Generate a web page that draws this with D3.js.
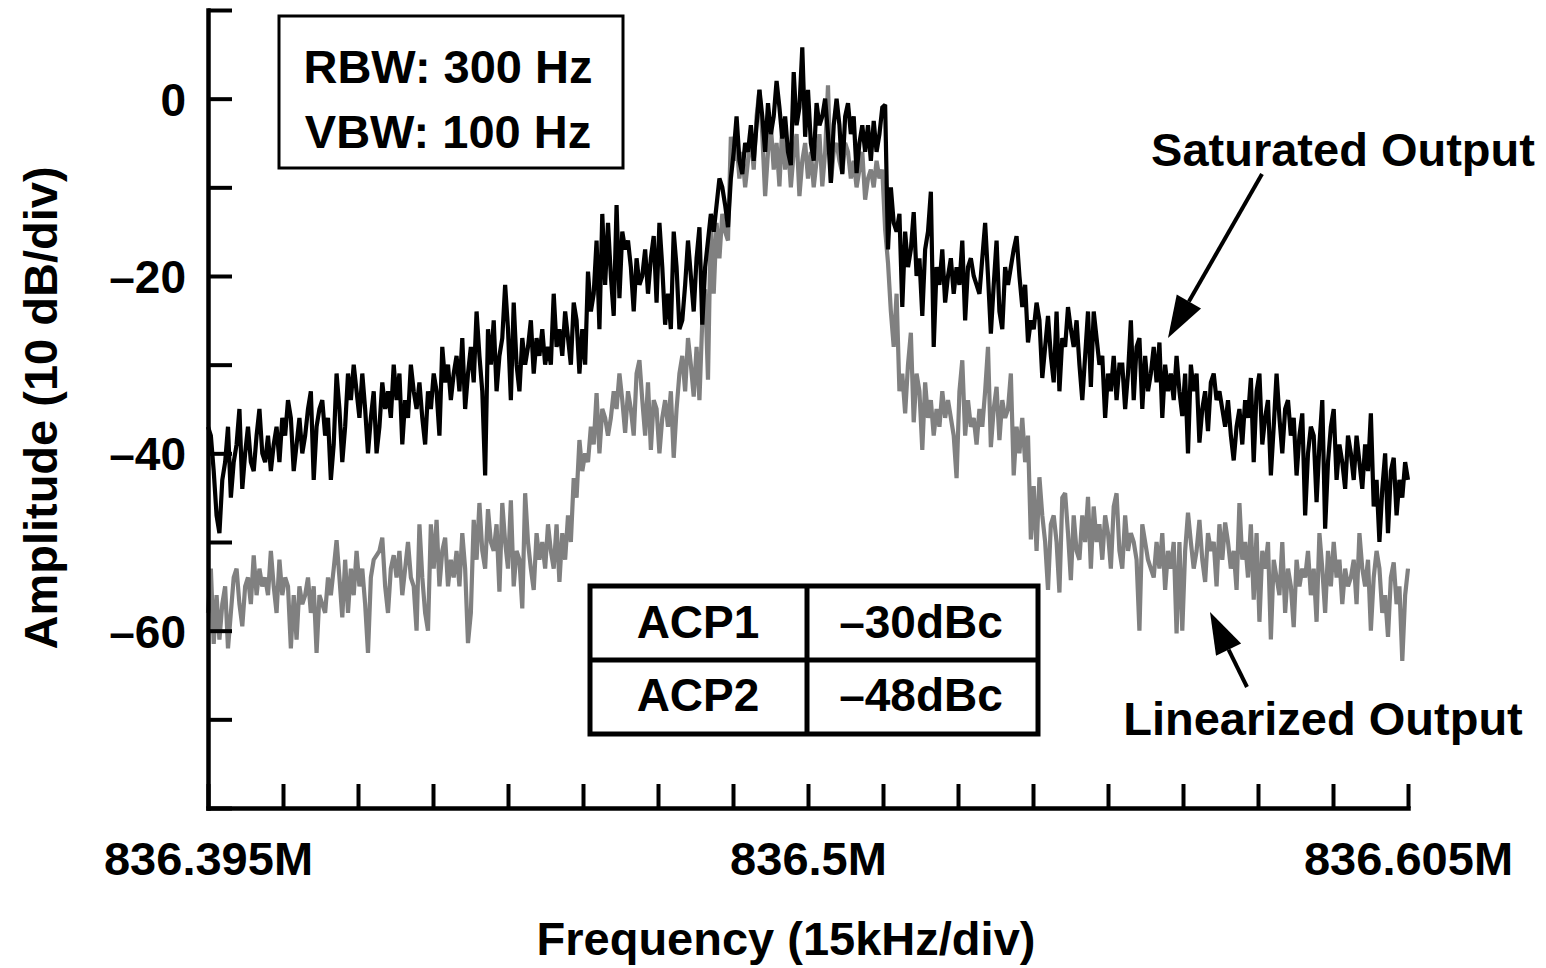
<!DOCTYPE html>
<html lang="en">
<head>
  <meta charset="UTF-8">
  <title>Saturated vs Linearized Output</title>
  <script src="https://d3js.org/d3.v7.min.js"></script>
  <style>
    body { margin: 0; background: #fff; }
    text { font-family: "Liberation Sans", Arial, Helvetica, sans-serif; font-weight: bold; fill: #000; }
  </style>
</head>
<body>
<svg id="chart"></svg>
<script>
  const width = 1546, height = 968;

  // sweep: 836.395 MHz .. 836.605 MHz, one reading per 0.5 kHz
  const sweepStart = 836.395, sweepStop = 836.605;
  const xLabelFreqs = [836.395, 836.5, 836.605];
  const yTicks = [-80, -70, -60, -50, -40, -30, -20, -10, 0, 10];
  const yLabelled = [0, -20, -40, -60];

  // saturated output trace (dB)
  const saturated = [
    -37, -38, -42, -47, -49, -43, -41, -37, -45, -41, -39, -35, -44, -40, -37, -41, -42, -38, -35, -40,
    -41, -38, -42, -39, -37, -41, -36, -38, -34, -36, -42, -39, -36, -40, -38, -35, -33, -43, -37, -35,
    -34, -38, -36, -43, -39, -31, -35, -41, -37, -31, -34, -30, -33, -36, -31, -35, -40, -36, -33, -40,
    -37, -32, -35, -33, -36, -30, -34, -31, -39, -34, -36, -30, -33, -35, -32, -36, -39, -33, -35, -31,
    -33, -38, -28, -32, -30, -34, -31, -29, -33, -27, -35, -31, -28, -32, -24, -29, -33, -42.5, -26, -30,
    -25, -33, -29, -27, -21, -26, -34, -23, -30, -33, -27, -30, -28, -25, -31, -27, -29, -26, -30, -28,
    -30, -22, -28, -26, -29, -24, -27, -30, -23, -25, -31, -26, -30, -19.5, -24, -22, -16, -26, -13, -21,
    -14, -20, -24.5, -12, -22.5, -15, -17, -16, -19, -24, -18, -21, -20, -17, -22, -18, -15.5, -23, -14, -19,
    -25.5, -22, -26, -15, -19, -26, -25, -21, -16, -20, -24, -18, -14.5, -25.5, -19, -16, -13, -15, -12, -9,
    -10, -12, -14.5, -9, -6, -2, -7, -8.5, -5, -6, -3, -7, -3, 1, -2, -6, -0.5, -4, -2, 2,
    -1, -4.5, -2, -6, -7.5, 3, -3, -1, 5.8, -4.3, 1, -5, -7, -0.5, -3, -2, 0, -4, -9.5, -3,
    0, -3, -8.5, -2, -0.5, -4, -2, -8.4, -5, -3, -6, -3, -7, -2.5, -6, -4, -1, -0.7, -17, -10,
    -14, -15, -13, -23.5, -15, -19, -17, -12.8, -20, -18, -24.5, -17, -15, -10.5, -28, -19, -21, -17, -23, -20,
    -18, -22, -19, -21, -16, -25, -19, -18, -20, -21, -22, -18, -14, -20, -26.5, -21, -16, -24, -26, -19,
    -21, -19, -17, -15.5, -20, -23.5, -21, -27.5, -25, -26, -23, -25, -31.5, -28, -24.5, -29, -32, -24, -33, -27,
    -28, -23.5, -26, -28, -25, -30, -34, -29, -24, -32.5, -24, -27, -30, -29, -36, -31, -33, -29, -34, -30,
    -30, -35, -31, -25, -34, -28, -27, -35, -29, -33, -31, -28, -32, -27.5, -36, -30, -33, -31, -34, -29,
    -33, -35.8, -31, -40, -30, -33, -31, -38.8, -35, -33, -37.5, -32, -31, -34, -33, -35, -37, -34, -38, -40.8,
    -37, -35, -39, -34, -36, -31.5, -41, -33, -31, -39, -36, -34, -42.5, -37, -31, -36, -40, -35, -34, -38,
    -36, -42.5, -38, -35.5, -47, -40, -37, -38, -45.5, -39, -34, -48.5, -41, -37, -35, -43, -39, -41, -44, -38,
    -40, -43, -38, -41, -44, -39, -42, -35.5, -46, -43, -50, -44, -40, -49, -42, -40.5, -47, -43, -45, -41, -43
  ];

  // linearized output trace (dB)
  const linearized = [
    -58, -53, -61.5, -56, -61, -57, -55, -62, -58, -54, -53, -57, -59.5, -55, -54, -57, -51.5, -56, -53, -55,
    -54, -56, -51, -55, -58, -52, -56, -54, -55, -62, -56, -61, -55, -57, -56, -54, -58, -55, -62.5, -56,
    -57, -58, -54, -56, -53, -49.8, -54, -58.5, -52, -58, -53, -56, -51, -55, -53, -57, -62.5, -54, -52, -51.5,
    -51, -49.5, -55, -58, -53, -51.5, -54, -51, -56, -53, -50, -54, -55, -60, -48, -54, -58, -60, -48, -53,
    -47.5, -55, -51, -49.5, -55, -52, -54, -51, -55, -49, -53, -61.4, -58, -47.5, -52, -45.6, -51, -53, -46.3, -50,
    -51, -48, -55.6, -45.6, -50, -53, -45.3, -55, -51, -52, -57.5, -44.5, -50, -53, -55.4, -49, -52, -50, -53, -48,
    -51, -53, -48, -54.5, -49, -52, -47, -50, -42.8, -45, -38.5, -42, -40, -41, -37, -39, -33.2, -40, -35, -36,
    -38, -36, -33, -35, -31, -34, -37.7, -33, -35, -38, -31, -29.5, -34, -38, -32, -39.6, -34, -35, -40, -36,
    -34, -37, -33, -40.5, -35, -31, -29, -33, -27, -30, -33.6, -28, -34, -25, -21.5, -31.7, -13.4, -22, -14, -18,
    -13, -15, -16, -4.3, -7, -5, -9, -6, -10, -7, -4, -8, -2, 1, -4, -11, -6, -3, -8, -5,
    -9.9, -3, -8, -5, -10, -6, -4, -11, -7, -5, -9, -6, -10, -7, -4, -9.9, -6, 1.5, -9.5, -6,
    -5, -7, -8.4, -5, -6, -9, -7, -10, -8, -6, -11.4, -9, -8, -10, -7, -9, -8, -14.8, -18.5, -24,
    -28, -22, -33, -31, -35.5, -30, -26.4, -36.5, -31, -33, -39.6, -32, -36, -34, -38, -35, -37, -33, -36, -34,
    -36, -38, -42.8, -33, -29.5, -38, -34, -37, -36, -39, -35, -37, -33, -28, -39.3, -35, -32.5, -38.5, -34, -36,
    -35, -31, -42.5, -37, -40, -36, -41, -38, -49.7, -43.7, -51, -42.7, -47, -50, -55.4, -48, -47, -50, -55.7, -45,
    -44.5, -49, -54.3, -47, -51, -52, -47, -50, -44.9, -53, -46, -50, -48, -52, -47, -49, -53, -46, -44.5, -51,
    -53, -47, -51, -49, -50, -52, -60, -48, -50, -52, -53, -54, -50, -53, -49, -55.4, -51, -53, -50, -60.3,
    -50, -60, -51, -46.7, -50, -53, -51, -47.5, -52, -54.5, -49, -51, -50, -55, -48, -52, -47.8, -50, -53, -51,
    -55.4, -45.6, -52, -50, -54, -48, -56.5, -49, -59, -51, -53, -50, -61, -52, -54, -56, -50, -58, -53, -55,
    -59.6, -52, -55, -53, -54, -51, -56, -53, -59, -49, -53, -58, -51, -55, -50, -54, -52, -57, -53, -55,
    -54, -52, -57, -49, -53, -55, -52, -60, -54, -51, -53, -58, -56, -60.7, -54, -52.3, -57, -55, -63.4, -56, -53
  ];

  const svg = d3.select('#chart')
      .attr('width', width)
      .attr('height', height);

  const x = d3.scaleLinear().domain([sweepStart, sweepStop]).range([208, 1408]);
  const y = d3.scaleLinear().domain([-80, 10]).range([808, 10]);

  // 16 divisions on the frequency axis
  const xTicks = d3.range(17).map(i => sweepStart + i * (sweepStop - sweepStart) / 16);

  const toPoints = vals => vals.map((v, i) => [sweepStart + i * (sweepStop - sweepStart) / (vals.length - 1), v]);

  const line = d3.line()
      .x(d => x(d[0]))
      .y(d => y(d[1]));

  // traces
  svg.append('path')
      .datum(toPoints(linearized))
      .attr('fill', 'none')
      .attr('stroke', '#808080')
      .attr('stroke-width', 4.2)
      .attr('stroke-linejoin', 'miter')
      .attr('stroke-miterlimit', 2)
      .attr('d', line);

  svg.append('path')
      .datum(toPoints(saturated))
      .attr('fill', 'none')
      .attr('stroke', '#000')
      .attr('stroke-width', 4.2)
      .attr('stroke-linejoin', 'miter')
      .attr('stroke-miterlimit', 2)
      .attr('d', line);

  // axes - ticks point inward
  const xAxis = svg.append('g')
      .attr('transform', 'translate(0,808)')
      .call(d3.axisBottom(x).tickValues(xTicks).tickSizeInner(-24).tickSizeOuter(0).tickFormat(''));

  const xLabels = svg.append('g')
      .attr('transform', 'translate(0,808)')
      .call(d3.axisBottom(x).tickValues(xLabelFreqs).tickSize(0).tickPadding(67)
        .tickFormat(d => d + 'M'));
  xLabels.select('.domain').remove();

  const yAxis = svg.append('g')
      .attr('transform', 'translate(208,0)')
      .call(d3.axisLeft(y).tickValues(yTicks).tickSizeInner(-24).tickSizeOuter(0).tickPadding(22)
        .tickFormat(d => yLabelled.includes(d) ? (d < 0 ? '\u2013' + (-d) : String(d)) : ''));

  [xAxis, yAxis].forEach(g => {
    g.select('.domain').attr('stroke', '#000').attr('stroke-width', 4.5).attr('stroke-linecap', 'square');
    g.selectAll('.tick line').attr('stroke', '#000').attr('stroke-width', 4);
  });

  svg.selectAll('.tick text')
      .attr('font-size', 46)
      .attr('font-family', '"Liberation Sans", Arial, sans-serif')
      .attr('font-weight', 'bold')
      .attr('fill', '#000');
  xLabels.selectAll('.tick text').attr('font-size', 47).attr('dy', 0);
  yAxis.selectAll('.tick text').attr('dy', '0.36em');

  // axis titles
  svg.append('text')
      .attr('x', 786).attr('y', 955)
      .attr('text-anchor', 'middle')
      .attr('font-size', 47)
      .text('Frequency (15kHz/div)');

  svg.append('text')
      .attr('transform', 'translate(57,408) rotate(-90)')
      .attr('text-anchor', 'middle')
      .attr('font-size', 47)
      .text('Amplitude (10 dB/div)');

  // RBW / VBW box
  svg.append('rect')
      .attr('x', 279).attr('y', 16).attr('width', 344).attr('height', 152)
      .attr('fill', '#fff').attr('stroke', '#000').attr('stroke-width', 3);
  svg.append('text').attr('x', 448).attr('y', 83).attr('text-anchor', 'middle')
      .attr('font-size', 47).text('RBW: 300 Hz');
  svg.append('text').attr('x', 448).attr('y', 148).attr('text-anchor', 'middle')
      .attr('font-size', 47).text('VBW: 100 Hz');

  // ACP table
  const acpNames = ['ACP1', 'ACP2'];
  const acpValues = ['\u201330dBc', '\u201348dBc'];
  const table = svg.append('g');
  table.append('rect')
      .attr('x', 590).attr('y', 586).attr('width', 448).attr('height', 148)
      .attr('fill', '#fff').attr('stroke', '#000').attr('stroke-width', 5);
  table.append('line').attr('x1', 807).attr('x2', 807).attr('y1', 586).attr('y2', 734)
      .attr('stroke', '#000').attr('stroke-width', 5);
  table.append('line').attr('x1', 590).attr('x2', 1038).attr('y1', 660).attr('y2', 660)
      .attr('stroke', '#000').attr('stroke-width', 5);
  acpNames.forEach((n, i) => {
    table.append('text').attr('x', 698).attr('y', 638 + i * 73).attr('text-anchor', 'middle')
        .attr('font-size', 46).text(n);
    table.append('text').attr('x', 921).attr('y', 638 + i * 73).attr('text-anchor', 'middle')
        .attr('font-size', 46).text(acpValues[i]);
  });

  // annotations with arrows
  function arrow(x1, y1, x2, y2) {
    const ang = Math.atan2(y2 - y1, x2 - x1);
    const len = 42, half = 14;
    const bx = x2 - len * Math.cos(ang), by = y2 - len * Math.sin(ang);
    svg.append('line')
        .attr('x1', x1).attr('y1', y1).attr('x2', bx).attr('y2', by)
        .attr('stroke', '#000').attr('stroke-width', 4);
    svg.append('path')
        .attr('d', `M${x2},${y2}L${bx + half * Math.sin(ang)},${by - half * Math.cos(ang)}L${bx - half * Math.sin(ang)},${by + half * Math.cos(ang)}Z`)
        .attr('fill', '#000');
  }

  svg.append('text').attr('x', 1343).attr('y', 166).attr('text-anchor', 'middle')
      .attr('font-size', 47).text('Saturated Output');
  arrow(1262, 174, 1168, 338);

  svg.append('text').attr('x', 1323).attr('y', 735).attr('text-anchor', 'middle')
      .attr('font-size', 47).text('Linearized Output');
  arrow(1247, 687, 1210, 612);
</script>
</body>
</html>
